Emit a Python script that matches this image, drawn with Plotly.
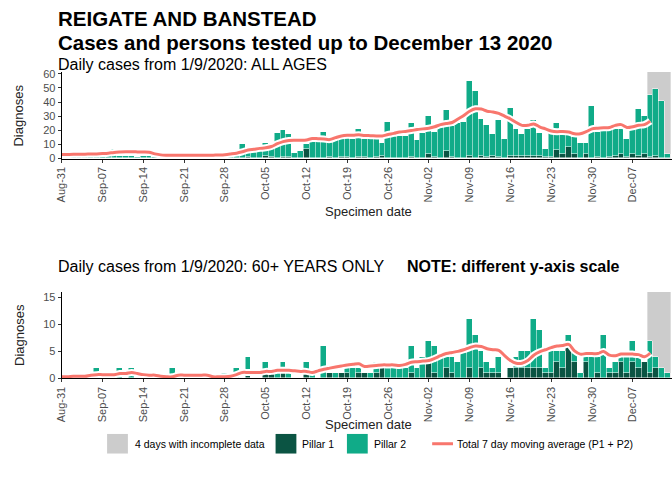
import pandas as pd
import plotly.graph_objects as go

# ---------------- data ----------------
first_bar_date = "2020-09-01"
first_avg_date = "2020-08-31"
incomplete_days = 4

all_pillar1 = [0,0,0,0,0,0,0,0,0,0,
               0,0,0,0,0,0,0,0,0,0,
               0,0,0,0,0,0,0,0,0,0,
               0,1,0,0,2,1,0,1,1,0,
               0,7,0,0,0,1,0,1,1,0,
               1,1,0,1,2,0,0,0,0,1,
               0,0,3,1,0,5,1,0,0,2,
               0,2,1,2,1,0,2,2,2,2,
               2,2,1,1,6,3,8,3,0,3,
               0,1,0,1,2,3,1,3,2,3,
               1,2,0,0]
all_pillar2 = [1,1,1,2,1,2,1,2,7,2,
               2,2,1,2,2,1,0,1,2,1,
               1,1,0,1,1,2,3,1,2,4,
               10,3,6,8,9,8,18,19,16,4,
               5,3,12,12,19,11,13,13,14,14,
               20,13,14,13,9,26,16,16,16,24,
               13,18,27,18,26,29,22,25,26,53,
               48,26,23,15,26,14,34,19,15,19,
               25,16,6,17,19,14,9,12,11,8,
               37,18,23,19,19,18,13,18,33,27,
               44,47,41,3]
all_avg = [2.8,2.9,3.0,3.0,3.1,3.2,3.3,3.5,3.8,4.3,
           4.6,4.8,4.8,4.7,4.6,4.4,3.3,2.6,2.4,2.4,
           2.3,2.3,2.3,2.3,2.3,2.3,2.4,2.5,2.7,3.2,
           3.8,4.8,6.0,6.6,7.2,7.6,8.5,10.5,12.0,12.8,
           13.0,13.0,13.2,14.2,14.0,13.8,13.4,14.8,16.0,16.5,
           16.5,16.8,16.3,16.2,16.0,16.0,17.0,17.8,18.8,19.2,
           19.8,20.5,21.0,21.5,22.5,24.0,24.8,25.5,28.0,30.5,
           33.5,35.2,35.0,33.5,33.0,32.0,30.0,28.0,25.5,23.5,
           23.5,24.5,22.5,21.0,19.5,19.0,19.2,18.8,17.5,17.5,
           19.0,21.0,21.5,21.8,22.0,23.5,24.0,22.0,22.5,23.5,
           24.0,26.5]

old_pillar1 = [0,0,0,0,0,0,0,0,0,0,
               0,0,0,0,0,0,0,0,0,0,
               0,0,0,0,0,0,0,0,0,0,
               0,1,0,0,1,1,0,1,0,0,
               0,1,0,0,0,1,0,1,1,0,
               1,1,0,1,2,0,0,0,0,1,
               0,0,3,1,0,2,1,0,0,2,
               0,2,1,1,1,0,2,2,2,2,
               2,2,1,1,3,2,6,3,0,3,
               0,1,0,1,1,3,1,3,2,3,
               1,2,0,0]
old_pillar2 = [0,1,1,0,0,2,0,0,0,2,
               0,2,0,0,0,0,0,0,2,0,
               0,0,0,0,0,0,0,1,1,2,
               0,3,0,0,2,0,2,2,1,0,
               0,2,1,0,6,0,1,0,1,2,
               1,0,1,2,0,2,2,2,2,5,
               2,4,4,5,4,2,3,3,5,9,
               8,3,2,1,3,0,0,2,3,3,
               9,7,1,4,2,3,2,2,1,1,
               4,3,8,1,2,1,3,4,2,0,
               6,2,2,1]
old_avg = [0.3,0.3,0.4,0.4,0.4,0.6,0.7,0.7,0.7,0.7,
           0.9,0.9,1.1,0.9,0.7,0.6,0.6,0.4,0.3,0.3,
           0.6,0.6,0.6,0.6,0.6,0.6,0.3,0.3,0.3,0.4,
           0.7,1.1,1.1,1.1,1.1,1.3,1.3,1.5,1.5,1.5,
           1.4,1.3,1.3,1.1,1.4,1.7,1.9,2.1,2.3,2.5,
           2.6,2.7,2.2,2.3,2.4,2.5,2.5,2.5,2.4,2.6,
           3.0,3.1,3.2,3.3,3.7,4.2,4.6,4.8,5.0,5.3,
           5.7,6.0,5.9,5.5,5.3,5.2,4.2,3.3,2.8,2.8,
           3.3,4.3,4.9,5.3,5.7,6.0,6.1,6.3,5.1,4.5,
           4.6,4.6,4.6,5.0,4.3,4.2,4.5,4.5,4.5,4.4,
           4.0,4.7]

y_ticks_all = [0, 10, 20, 30, 40, 50, 60]
y_ticks_old = [0, 5, 10, 15]

# ---------------- styling ----------------
W, H = 672, 485
C_P1 = "#0b5443"
C_P2 = "#10ab88"
C_AVG = "#f8766d"
C_GREY = "#cccccc"
FONT = "Liberation Sans, Arial, sans-serif"
TXT = "#4d4d4d"

bar_dates = pd.date_range(first_bar_date, periods=len(all_pillar2), freq="D")
avg_dates = pd.date_range(first_avg_date, periods=len(all_avg), freq="D")
DAY_MS = 86400000

def px_x(p):
    return p / W

def px_y(p):
    return 1 - p / H

left_px = 56.2
panels = [
    dict(x="x", y="y", top=69.5, bot=157.8, yr=[0, 61.2], ticks=y_ticks_all,
         p1=all_pillar1, p2=all_pillar2, avg=all_avg),
    dict(x="x2", y="y2", top=294.0, bot=382.3, yr=[0, 16.0], ticks=y_ticks_old,
         p1=old_pillar1, p2=old_pillar2, avg=old_avg),
]

fig = go.Figure()
x_end = pd.Timestamp("2020-08-31") + pd.Timedelta(days=(W - left_px) / 5.88)

shapes = []
for i, p in enumerate(panels):
    fig.add_trace(go.Bar(x=bar_dates, y=p["p1"], xaxis=p["x"], yaxis=p["y"],
                         marker=dict(color=C_P1, line=dict(color="white", width=0.5)),
                         width=DAY_MS, name="Pillar 1", showlegend=False))
    fig.add_trace(go.Bar(x=bar_dates, y=p["p2"], xaxis=p["x"], yaxis=p["y"],
                         marker=dict(color=C_P2, line=dict(color="white", width=0.5)),
                         width=DAY_MS, name="Pillar 2", showlegend=False))
    fig.add_trace(go.Scatter(x=avg_dates, y=p["avg"], xaxis=p["x"], yaxis=p["y"],
                             mode="lines", line=dict(color="white", width=7, shape="spline"),
                             hoverinfo="skip", showlegend=False))
    fig.add_trace(go.Scatter(x=avg_dates, y=p["avg"], xaxis=p["x"], yaxis=p["y"],
                             mode="lines", line=dict(color=C_AVG, width=3, shape="spline"),
                             name="Total 7 day moving average (P1 + P2)", showlegend=False))
    g0 = bar_dates[-incomplete_days] - pd.Timedelta(hours=12)
    g1 = bar_dates[-1] + pd.Timedelta(hours=12)
    shapes.append(dict(type="rect", xref=p["x"], yref=p["y"] + " domain",
                       x0=g0, x1=g1, y0=0, y1=1, fillcolor=C_GREY,
                       line=dict(width=0), layer="below"))

axis_common = dict(showline=True, linecolor="black", linewidth=1, ticks="outside",
                   ticklen=3, tickcolor="#333333", showgrid=False, zeroline=False,
                   tickfont=dict(family=FONT, size=11, color=TXT))

layout = dict(width=W, height=H, margin=dict(l=0, r=0, t=0, b=0),
              paper_bgcolor="white", plot_bgcolor="white", barmode="stack",
              bargap=0, showlegend=False, font=dict(family=FONT))
for i, p in enumerate(panels):
    sfx = "" if i == 0 else "2"
    layout["xaxis" + sfx] = dict(axis_common, domain=[px_x(left_px), 1],
                                 anchor="y" + sfx, type="date",
                                 range=[pd.Timestamp("2020-08-31"), x_end],
                                 tick0="2020-08-31", dtick=7 * DAY_MS,
                                 tickformat="%b-%d", tickangle=-90)
    layout["yaxis" + sfx] = dict(axis_common, domain=[px_y(p["bot"]), px_y(p["top"])],
                                 anchor="x" + sfx, range=p["yr"], tickvals=p["ticks"])
fig.update_layout(**layout)

ann = []
def text(x, y, s, size, bold=False, color="black", xanchor="left", angle=0):
    ann.append(dict(x=px_x(x), y=px_y(y), xref="paper", yref="paper",
                    text=s, showarrow=False, borderpad=0,
                    xanchor=xanchor, yanchor="middle", textangle=angle, align="left",
                    font=dict(family=FONT, size=size, color=color,
                              weight="bold" if bold else "normal")))

text(51, 15, "REIGATE AND BANSTEAD", 20.5, bold=True)
text(51, 39.5, "Cases and persons tested up to December 13 2020", 20.5, bold=True)
text(51, 62, "Daily cases from 1/9/2020: ALL AGES", 16)
text(366, 212, "Specimen date", 13, color="#222222", xanchor="center")
text(13, 114, "Diagnoses", 13, color="#222222", xanchor="center", angle=-90)
text(51, 268, "Daily cases from 1/9/2020: 60+ YEARS ONLY", 16)
text(404, 268, "NOTE: different y-axis scale", 16, bold=True)
text(366, 429, "Specimen date", 13, color="#222222", xanchor="center")
text(13, 338, "Diagnoses", 13, color="#222222", xanchor="center", angle=-90)

# legend
ly = 449
bh = 10
for x0, col in [(102, C_GREY), (272, C_P1), (344, C_P2)]:
    shapes.append(dict(type="rect", xref="paper", yref="paper",
                       x0=px_x(x0), x1=px_x(x0 + 21), y0=px_y(ly + bh), y1=px_y(ly - bh),
                       fillcolor=col, line=dict(width=0)))
shapes.append(dict(type="line", xref="paper", yref="paper",
                   x0=px_x(430), x1=px_x(451), y0=px_y(ly), y1=px_y(ly),
                   line=dict(color=C_AVG, width=3)))
text(129, ly, "4 days with incomplete data", 10.5)
text(298, ly, "Pillar 1", 10.5)
text(370, ly, "Pillar 2", 10.5)
text(454, ly, "Total 7 day moving average (P1 + P2)", 10.5)

fig.update_layout(annotations=ann, shapes=shapes)
fig.write_html("out.html", config={"displayModeBar": False},
               post_script="document.body.style.margin='0';")
